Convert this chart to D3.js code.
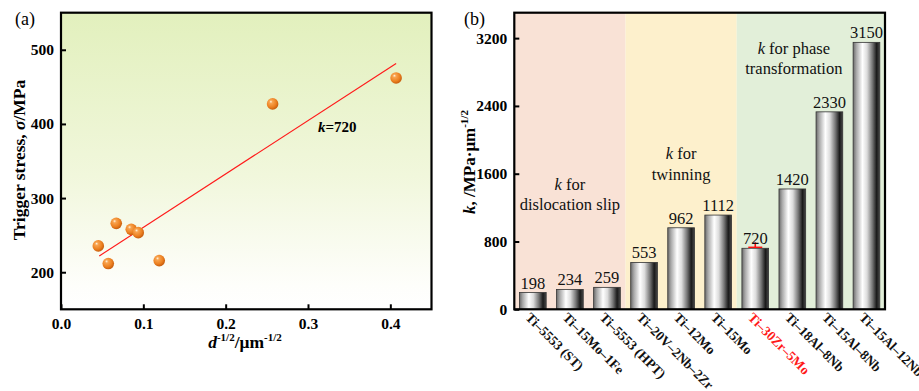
<!DOCTYPE html>
<html><head><meta charset="utf-8">
<script src="https://cdn.jsdelivr.net/npm/d3@7"></script>
<style>
body{margin:0;background:#fff;}
</style></head>
<body>
<svg id="c" width="919" height="391" font-family="Liberation Serif"></svg>
<script>
// ---- Panel (a) data ----
const scatterX = [0.407, 0.257, 0.0453, 0.0574, 0.0671, 0.0853, 0.0938, 0.1193];
const scatterY = [462, 427, 235.5, 211.7, 265.9, 257.8, 253.4, 215.7];
const fitX = [0.0465, 0.407];
const fitSlope = 720;
const fitIntercept = 188.5;
const aXTicks = [0.0, 0.1, 0.2, 0.3, 0.4];
const aYTicks = [200, 300, 400, 500];

// ---- Panel (b) data ----
const alloys = ["Ti–5553 (ST)", "Ti–15Mo–1Fe", "Ti–5553 (HPT)", "Ti–20V–2Nb–2Zr", "Ti–12Mo", "Ti–15Mo", "Ti–30Zr–5Mo", "Ti–18Al–8Nb", "Ti–15Al–8Nb", "Ti–15Al–12Nb"];
const kValues = [198, 234, 259, 553, 962, 1112, 720, 1420, 2330, 3150];
const bYTicks = [0, 800, 1600, 2400, 3200];
const highlight = "Ti–30Zr–5Mo";
const regions = [
  {from: 0, to: 3, color: "#f9e2d6", lines: ["for", "dislocation slip"]},
  {from: 3, to: 6, color: "#fdf0cc", lines: ["for", "twinning"]},
  {from: 6, to: 10, color: "#e2efd9", lines: ["for phase", "transformation"]}
];

const FONT = "Liberation Serif";
const svg = d3.select("#c");
const defs = svg.append("defs");

// ===== Panel (a) =====
const A = {l: 61, r: 431.5, t: 12.7, b: 309.3};
const xa = d3.scaleLinear().domain([0, 0.45]).range([A.l, A.r]);
const ya = d3.scaleLinear().domain([150, 550]).range([A.b, A.t]);

const bgGrad = defs.append("linearGradient").attr("id", "bgA").attr("x1", 0).attr("y1", 0).attr("x2", 0).attr("y2", 1);
bgGrad.append("stop").attr("offset", "0%").attr("stop-color", "#e2f0bd");
bgGrad.append("stop").attr("offset", "55%").attr("stop-color", "#f1f7dc");
bgGrad.append("stop").attr("offset", "92%").attr("stop-color", "#fefefb");
bgGrad.append("stop").attr("offset", "100%").attr("stop-color", "#ffffff");
svg.append("rect").attr("x", A.l).attr("y", A.t).attr("width", A.r - A.l).attr("height", A.b - A.t).attr("fill", "url(#bgA)");

const ballGrad = defs.append("radialGradient").attr("id", "ball").attr("cx", "40%").attr("cy", "38%").attr("r", "62%").attr("fx", "35%").attr("fy", "30%");
ballGrad.append("stop").attr("offset", "0%").attr("stop-color", "#fff4e0");
ballGrad.append("stop").attr("offset", "22%").attr("stop-color", "#f8a450");
ballGrad.append("stop").attr("offset", "70%").attr("stop-color", "#ec8020");
ballGrad.append("stop").attr("offset", "100%").attr("stop-color", "#c85e0e");

// fit line
svg.append("line")
  .attr("x1", xa(fitX[0])).attr("y1", ya(fitIntercept + fitSlope * fitX[0]))
  .attr("x2", xa(fitX[1])).attr("y2", ya(fitIntercept + fitSlope * fitX[1]))
  .attr("stroke", "#ff1a1a").attr("stroke-width", 1.2);

svg.append("g").selectAll("circle").data(scatterX.map((x, i) => [x, scatterY[i]])).join("circle")
  .attr("cx", d => xa(d[0])).attr("cy", d => ya(d[1])).attr("r", 5.8)
  .attr("fill", "url(#ball)");

// axes (a)
const axAx = svg.append("g").attr("transform", `translate(0,${A.b})`)
  .call(d3.axisBottom(xa).tickValues(aXTicks).tickFormat(d3.format(".1f")).tickSizeInner(-5).tickSizeOuter(0).tickPadding(9));
const axAy = svg.append("g").attr("transform", `translate(${A.l},0)`)
  .call(d3.axisLeft(ya).tickValues(aYTicks).tickFormat(d3.format("d")).tickSizeInner(-5).tickSizeOuter(0).tickPadding(7));
[axAx, axAy].forEach(g => {
  g.attr("font-family", FONT);
  g.select(".domain").remove();
  g.selectAll("line").attr("stroke", "#000").attr("stroke-width", 2);
  g.selectAll("text").attr("font-weight", "bold").attr("font-size", 15.5).attr("fill", "#000");
});
svg.append("rect").attr("x", A.l).attr("y", A.t).attr("width", A.r - A.l).attr("height", A.b - A.t)
  .attr("fill", "none").attr("stroke", "#000").attr("stroke-width", 2.2);

// labels (a)
svg.append("text").attr("x", 15).attr("y", 25).attr("font-size", 18).text("(a)");
const kt = svg.append("text").attr("x", 318).attr("y", 132).attr("font-size", 15).attr("font-weight", "bold");
kt.append("tspan").attr("font-style", "italic").text("k");
kt.append("tspan").text("=720");

const yTitleA = svg.append("text").attr("transform", `translate(25,160) rotate(-90)`).attr("text-anchor", "middle")
  .attr("font-size", 17.5).attr("font-weight", "bold");
yTitleA.append("tspan").text("Trigger stress,  ");
yTitleA.append("tspan").attr("font-style", "italic").text("σ");
yTitleA.append("tspan").text("/MPa");

const xTitleA = svg.append("text").attr("x", 245).attr("y", 348).attr("text-anchor", "middle")
  .attr("font-size", 17.5).attr("font-weight", "bold");
xTitleA.append("tspan").attr("font-style", "italic").text("d");
xTitleA.append("tspan").attr("font-size", 11).attr("dy", -7).text("-1/2");
xTitleA.append("tspan").attr("dy", 7).text("/μm");
xTitleA.append("tspan").attr("font-size", 11).attr("dy", -7).text("-1/2");

// ===== Panel (b) =====
const B = {l: 514.3, r: 885, t: 12.7, b: 309.3};
const xb = d3.scaleBand().domain(alloys).range([B.l, B.r]).paddingInner(0.28).paddingOuter(0.14);
const yb = d3.scaleLinear().domain([0, 3500]).range([B.b, B.t]);

// region backgrounds
regions.forEach(r => {
  const x0 = r.from === 0 ? B.l : (xb(alloys[r.from - 1]) + xb.bandwidth() + xb(alloys[r.from])) / 2;
  const x1 = r.to === alloys.length ? B.r : (xb(alloys[r.to - 1]) + xb.bandwidth() + xb(alloys[r.to])) / 2;
  r.x0 = x0; r.x1 = x1;
  svg.append("rect").attr("x", x0).attr("y", B.t).attr("width", x1 - x0).attr("height", B.b - B.t).attr("fill", r.color);
});

const barGrad = defs.append("linearGradient").attr("id", "bar").attr("x1", 0).attr("y1", 0).attr("x2", 1).attr("y2", 0);
[[0, "#6a6a6a"], [0.12, "#a8a8a8"], [0.35, "#ffffff"], [0.52, "#dcdcdc"], [0.72, "#777777"], [0.88, "#1a1a1a"], [1, "#484848"]]
  .forEach(s => barGrad.append("stop").attr("offset", s[0]).attr("stop-color", s[1]));

svg.append("g").selectAll("rect").data(alloys).join("rect")
  .attr("x", d => xb(d)).attr("width", xb.bandwidth())
  .attr("y", (d, i) => yb(kValues[i])).attr("height", (d, i) => yb(0) - yb(kValues[i]))
  .attr("fill", "url(#bar)").attr("stroke", "#333").attr("stroke-width", 0.8);

// red marker on highlighted bar
const hi = alloys.indexOf(highlight);
const hx = xb(highlight) + xb.bandwidth() / 2;
svg.append("line").attr("x1", hx - 7).attr("x2", hx + 7).attr("y1", yb(kValues[hi]) - 1).attr("y2", yb(kValues[hi]) - 1)
  .attr("stroke", "#ff1010").attr("stroke-width", 1.4);
svg.append("line").attr("x1", hx).attr("x2", hx).attr("y1", yb(kValues[hi]) - 1).attr("y2", yb(kValues[hi]) - 6)
  .attr("stroke", "#ff1010").attr("stroke-width", 1.6);

// value labels
svg.append("g").selectAll("text").data(alloys).join("text")
  .attr("x", d => xb(d) + xb.bandwidth() / 2).attr("y", (d, i) => yb(kValues[i]) - 4)
  .attr("text-anchor", "middle").attr("font-size", 16.5).attr("fill", "#111")
  .text((d, i) => kValues[i]);

// region annotations
const annY = [[185, 205], [154, 175], [49, 69]];
regions.forEach((r, i) => {
  const cx = (r.x0 + r.x1) / 2 + (i === 2 ? -17 : 0);
  const t1 = svg.append("text").attr("x", cx).attr("y", annY[i][0] + 5).attr("text-anchor", "middle").attr("font-size", 16.5).attr("fill", "#111");
  t1.append("tspan").attr("font-style", "italic").text("k");
  t1.append("tspan").text(" " + r.lines[0]);
  svg.append("text").attr("x", cx).attr("y", annY[i][1] + 5).attr("text-anchor", "middle").attr("font-size", 16.5).attr("fill", "#111").text(r.lines[1]);
});

// axes (b)
const bAy = svg.append("g").attr("transform", `translate(${B.l},0)`)
  .call(d3.axisLeft(yb).tickValues(bYTicks).tickFormat(d3.format("d")).tickSizeInner(-5).tickSizeOuter(0).tickPadding(7));
bAy.attr("font-family", FONT);
bAy.select(".domain").remove();
bAy.selectAll("line").attr("stroke", "#000").attr("stroke-width", 2);
bAy.selectAll("text").attr("font-weight", "bold").attr("font-size", 15.5).attr("fill", "#000");
svg.append("rect").attr("x", B.l).attr("y", B.t).attr("width", B.r - B.l).attr("height", B.b - B.t)
  .attr("fill", "none").attr("stroke", "#000").attr("stroke-width", 2.2);

// x labels rotated
svg.append("g").selectAll("text").data(alloys).join("text")
  .attr("transform", d => `translate(${xb(d) + xb.bandwidth() / 2 - 8},${B.b + 9}) rotate(45)`)
  .attr("text-anchor", "start").attr("font-size", 13.5).attr("font-weight", "bold")
  .attr("fill", d => d === highlight ? "#ff1a1a" : "#111")
  .text(d => d);

svg.append("text").attr("x", 464).attr("y", 25).attr("font-size", 18).text("(b)");

const yTitleB = svg.append("text").attr("transform", `translate(475,162) rotate(-90)`).attr("text-anchor", "middle")
  .attr("font-size", 17).attr("font-weight", "bold");
yTitleB.append("tspan").attr("font-style", "italic").text("k");
yTitleB.append("tspan").text(", /MPa·μm");
yTitleB.append("tspan").attr("font-size", 11).attr("dy", -7).text("-1/2");

svg.selectAll("text").attr("font-family", FONT);
</script>
</body></html>
